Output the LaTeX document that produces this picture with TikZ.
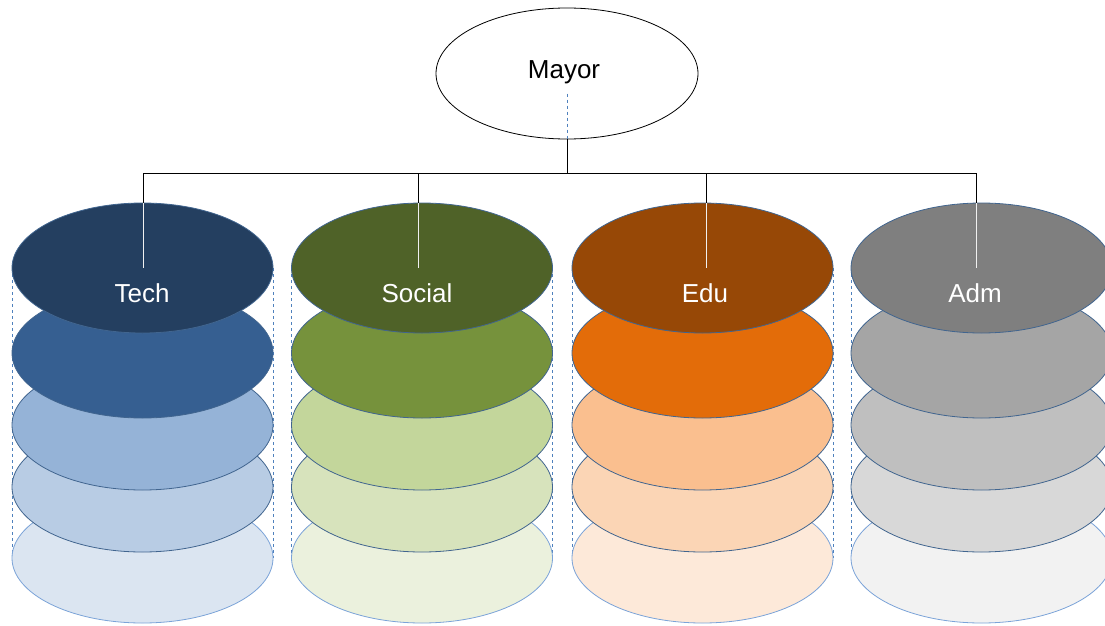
\documentclass[tikz,border=0pt]{standalone}
\usepackage{fontspec}
\setmainfont{Liberation Sans}
\usetikzlibrary{shapes.geometric}
\definecolor{edgeblue}{HTML}{41658F}
\definecolor{edgelight}{HTML}{7BA3D8}
\definecolor{dashblue}{HTML}{4F81BD}
\definecolor{tA}{HTML}{243F60}\definecolor{tB}{HTML}{365F91}\definecolor{tC}{HTML}{95B3D7}\definecolor{tD}{HTML}{B8CCE4}\definecolor{tE}{HTML}{DBE5F1}
\definecolor{sA}{HTML}{4F6228}\definecolor{sB}{HTML}{76923C}\definecolor{sC}{HTML}{C3D69B}\definecolor{sD}{HTML}{D7E3BC}\definecolor{sE}{HTML}{EBF1DD}
\definecolor{eA}{HTML}{974806}\definecolor{eB}{HTML}{E36C09}\definecolor{eC}{HTML}{FABF8F}\definecolor{eD}{HTML}{FBD5B5}\definecolor{eE}{HTML}{FDE9D9}
\definecolor{aA}{HTML}{7F7F7F}\definecolor{aB}{HTML}{A5A5A5}\definecolor{aC}{HTML}{BFBFBF}\definecolor{aD}{HTML}{D8D8D8}\definecolor{aE}{HTML}{F2F2F2}
\tikzset{
  disc/.style={ellipse, minimum width=261pt, minimum height=130pt, inner sep=0pt, draw=edgeblue, line width=0.8pt, fill=#1},
  lastdisc/.style={disc=#1, draw=edgelight},
  boss/.style={ellipse, minimum width=262pt, minimum height=131pt, inner sep=0pt, draw=black, line width=0.8pt, fill=white},
  lbl/.style={font=\fontsize{26}{30}\selectfont, inner sep=0pt},
  wlbl/.style={lbl, text=white},
  guide/.style={dashed, dashblue, line width=0.7pt},
  conn/.style={black, line width=1pt},
  inner/.style={white!88!gray, line width=1pt}
}
\begin{document}
\begin{tikzpicture}[x=1pt,y=-1pt]
\useasboundingbox (0,0) rectangle (1105,626);
% Mayor
\node[boss] (mayor) at (567,73.5) {};
\node[lbl] (mayorlbl) at (564,72) {Mayor};
\coordinate (hub) at (567,173);
\draw[guide] ([yshift=-20pt]mayor.center) -- (mayor.south);
\draw[conn] (mayor.south) -- (hub);
% columns: name, ellipse x, line x, colours, text
\foreach \nm/\cx/\lx/\A/\B/\C/\D/\E/\txt in {tech/142.5/143/tA/tB/tC/tD/tE/Tech, soc/422/418/sA/sB/sC/sD/sE/Social, edu/702.5/706/eA/eB/eC/eD/eE/Edu, adm/981.5/976/aA/aB/aC/aD/aE/Adm}{
  \draw[guide] (\cx-130.5,268) -- (\cx-130.5,558);
  \draw[guide] (\cx+130.5,268) -- (\cx+130.5,558);
  \node[lastdisc=\E] (\nm5) at (\cx,558) {};
  \node[disc=\D] (\nm4) at (\cx,487) {};
  \node[disc=\C] (\nm3) at (\cx,425) {};
  \node[disc=\B] (\nm2) at (\cx,353) {};
  \node[disc=\A] (\nm1) at (\cx,268) {};
  \node[wlbl] (\nm lbl) at (\lx-1,293) {\txt};
  \coordinate (\nm top) at (\lx,173);
  \coordinate (\nm rim) at (\lx,203);
  \coordinate (\nm mid) at (\lx,268);
  \draw[conn] (\nm top) -- (\nm rim);
  \draw[inner] (\nm rim) -- (\nm mid);
}
\draw[conn] (techtop) -- (admtop);
\end{tikzpicture}
\end{document}
